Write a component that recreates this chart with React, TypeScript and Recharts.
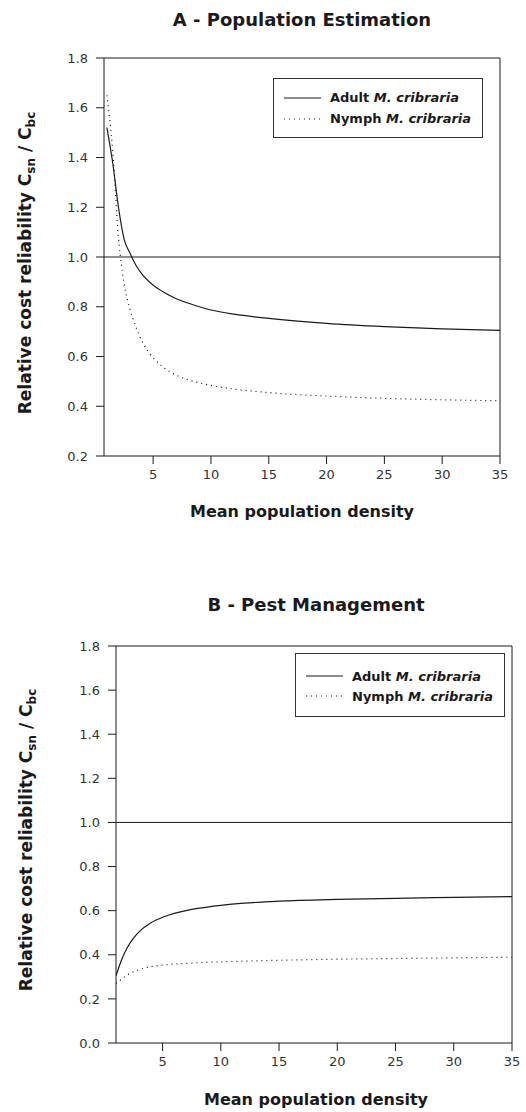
import React from "react";
import { LineChart, Line, XAxis, YAxis, ReferenceLine } from "recharts";

// A - Population Estimation
const densityA = [1, 1.5, 2, 2.5, 3, 3.5, 4, 5, 6, 7, 8, 10, 12, 15, 20, 25, 30, 35];
const adultA = [1.52, 1.38, 1.2, 1.07, 1.015, 0.968, 0.933, 0.887, 0.856, 0.832, 0.815, 0.787, 0.77, 0.753, 0.733, 0.72, 0.711, 0.705];
const nymphA = [1.65, 1.43, 1.08, 0.89, 0.79, 0.72, 0.665, 0.595, 0.553, 0.525, 0.507, 0.484, 0.469, 0.455, 0.441, 0.432, 0.426, 0.422];

// B - Pest Management
const densityB = [1, 1.5, 2, 2.5, 3, 4, 5, 6, 7, 8, 10, 12, 15, 20, 25, 30, 35];
const adultB = [0.305, 0.38, 0.435, 0.475, 0.505, 0.545, 0.57, 0.588, 0.6, 0.61, 0.624, 0.634, 0.643, 0.651, 0.656, 0.66, 0.664];
const nymphB = [0.27, 0.29, 0.31, 0.323, 0.333, 0.346, 0.353, 0.358, 0.361, 0.364, 0.368, 0.371, 0.375, 0.38, 0.383, 0.386, 0.389];

const xTicks = [5, 10, 15, 20, 25, 30, 35];
const yTicksA = [0.2, 0.4, 0.6, 0.8, 1.0, 1.2, 1.4, 1.6, 1.8];
const yTicksB = [0, 0.2, 0.4, 0.6, 0.8, 1.0, 1.2, 1.4, 1.6, 1.8];

const FONT = '"DejaVu Sans", Verdana, sans-serif';
const INK = "#1a1a1a";

function rows(xs: number[], adult: number[], nymph: number[]) {
  return xs.map((x, i) => ({ x, adult: adult[i], nymph: nymph[i] }));
}

function SpeciesLegend({ left, top, height, padTop, rowH }: any) {
  const item = (label: string, dash?: string) => (
    <div style={{ display: "flex", alignItems: "center", height: rowH }}>
      <svg width={37} height={4} style={{ marginRight: 9 }}>
        <line x1={0} y1={2} x2={37} y2={2} stroke={INK} strokeWidth={1.2} strokeDasharray={dash} />
      </svg>
      <span>
        {label} <i>M. cribraria</i>
      </span>
    </div>
  );
  return (
    <div
      style={{
        position: "absolute",
        left,
        top,
        width: 210,
        height,
        boxSizing: "border-box",
        border: "1px solid #333",
        paddingLeft: 10,
        paddingTop: padTop,
        fontSize: 13,
        fontWeight: "bold",
        color: INK,
        background: "#fff",
      }}
    >
      {item("Adult")}
      {item("Nymph", "1 4")}
    </div>
  );
}

function Panel({ data, xDomain, yDomain, yTicks, margin }: any) {
  return (
    <LineChart width={526} height={556} data={data} margin={margin}>
      <XAxis
        dataKey="x"
        type="number"
        domain={xDomain}
        allowDataOverflow
        ticks={xTicks}
        height={30}
        tickSize={8}
        tickMargin={6}
        stroke={INK}
        tick={{ fill: "#333", fontSize: 13 }}
      />
      <YAxis
        type="number"
        domain={yDomain}
        ticks={yTicks}
        width={50}
        tickSize={8}
        tickMargin={8}
        stroke={INK}
        tick={{ fill: "#333", fontSize: 13 }}
        tickFormatter={(v: number) => v.toFixed(1)}
      />
      <ReferenceLine y={yDomain[1]} stroke={INK} />
      <ReferenceLine x={xDomain[1]} stroke={INK} />
      <ReferenceLine y={1} stroke={INK} />
      <Line dataKey="adult" type="monotone" stroke={INK} strokeWidth={1.2} dot={false} isAnimationActive={false} />
      <Line dataKey="nymph" type="monotone" stroke={INK} strokeWidth={1.2} strokeDasharray="1 4" dot={false} isAnimationActive={false} />
    </LineChart>
  );
}

function YTitle({ x, y }: { x: number; y: number }) {
  return (
    <text transform={`translate(${x},${y}) rotate(-90)`} textAnchor="middle" fontSize={17} fontWeight="bold" fill={INK}>
      Relative cost reliability C
      <tspan fontSize={12} dy={4}>sn</tspan>
      <tspan dy={-4}> / C</tspan>
      <tspan fontSize={12} dy={4}>bc</tspan>
    </text>
  );
}

export default function App() {
  return (
    <div style={{ position: "absolute", left: 0, top: 0, width: 526, height: 1112, background: "#fff", fontFamily: FONT }}>
      <div style={{ position: "absolute", left: 0, top: 0 }}>
        <Panel
          data={rows(densityA, adultA, nymphA)}
          xDomain={[0.75, 35]}
          yDomain={[0.2, 1.8]}
          yTicks={yTicksA}
          margin={{ top: 58, right: 26, bottom: 70, left: 54 }}
        />
      </div>
      <div style={{ position: "absolute", left: 0, top: 556 }}>
        <Panel
          data={rows(densityB, adultB, nymphB)}
          xDomain={[1, 35]}
          yDomain={[0, 1.8]}
          yTicks={yTicksB}
          margin={{ top: 90, right: 14, bottom: 39, left: 66 }}
        />
      </div>
      <SpeciesLegend left={273} top={78} height={60} padTop={8} rowH={21} />
      <SpeciesLegend left={295} top={653} height={64} padTop={12} rowH={20} />
      <svg width={526} height={1112} style={{ position: "absolute", left: 0, top: 0, pointerEvents: "none" }}>
        <text x={302} y={26} textAnchor="middle" fontSize={18} fontWeight="bold" fill={INK}>
          A - Population Estimation
        </text>
        <text x={302} y={517} textAnchor="middle" fontSize={16} fontWeight="bold" fill={INK}>
          Mean population density
        </text>
        <YTitle x={31} y={263} />
        <text x={316} y={611} textAnchor="middle" fontSize={18} fontWeight="bold" fill={INK}>
          B - Pest Management
        </text>
        <text x={316} y={1105} textAnchor="middle" fontSize={16} fontWeight="bold" fill={INK}>
          Mean population density
        </text>
        <YTitle x={32} y={840} />
      </svg>
    </div>
  );
}
